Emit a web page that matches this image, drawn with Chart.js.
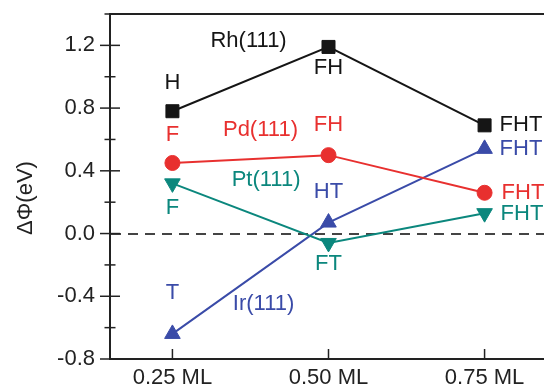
<!DOCTYPE html>
<html>
<head>
<meta charset="utf-8">
<script src="https://cdn.jsdelivr.net/npm/chart.js@4.4.1/dist/chart.umd.min.js"></script>
<style>
  html, body { margin: 0; padding: 0; background: #fff; overflow: hidden; }
  #wrap { width: 552px; height: 387px; }
</style>
</head>
<body>
<div id="wrap"><canvas id="workFunction"></canvas></div>
<script>
// coverage (x) and work-function change (y, eV)
const coverage = [0.25, 0.50, 0.75];
const coverageLabels = ['0.25 ML', '0.50 ML', '0.75 ML'];

const rhValues = [0.78, 1.19, 0.69];
const pdValues = [0.45, 0.50, 0.26];
const ptValues = [0.32, -0.06, 0.13];
const irValues = [-0.64, 0.07, 0.54];

// adsorption sites occupied at each coverage
const rhSites = ['H', 'FH', 'FHT'];
const pdSites = ['F', 'FH', 'FHT'];
const ptSites = ['F', 'FT', 'FHT'];
const irSites = ['T', 'HT', 'FHT'];

const FONT = '22px "Liberation Sans", Arial, sans-serif';
const INK = '#222';

const series = [
  { name: 'Rh(111)', values: rhValues, sites: rhSites, color: '#151515',
    style: 'rect', radius: 9.2, rotation: 0,
    nameAt: [0.372, 1.23], siteOffsets: [[0, -28], [0, 21.5], [15, 0]] },
  { name: 'Pd(111)', values: pdValues, sites: pdSites, color: '#e8302f',
    style: 'circle', radius: 7.5, rotation: 0,
    nameAt: [0.391, 0.66], siteOffsets: [[0, -28], [0, -30], [17, 0]] },
  { name: 'Pt(111)', values: ptValues, sites: ptSites, color: '#0b877d',
    style: 'triangle', radius: 9, rotation: 180,
    nameAt: [0.400, 0.34], siteOffsets: [[0, 25], [0, 21], [16, 1]] },
  { name: 'Ir(111)', values: irValues, sites: irSites, color: '#3a4ba8',
    style: 'triangle', radius: 9, rotation: 0,
    nameAt: [0.396, -0.45], siteOffsets: [[0, -41], [0, -31], [15, 0]] }
];

// series names, site labels, y title, frame and crossing tick marks
const decorations = {
  id: 'decorations',
  afterDatasetsDraw(chart) {
    const { ctx, scales: { x, y } } = chart;
    ctx.save();
    ctx.font = FONT;
    ctx.textBaseline = 'middle';
    series.forEach((s, di) => {
      ctx.fillStyle = s.color;
      ctx.textAlign = 'center';
      ctx.fillText(s.name, x.getPixelForValue(s.nameAt[0]), y.getPixelForValue(s.nameAt[1]));
      chart.getDatasetMeta(di).data.forEach((pt, i) => {
        const [dx, dy] = s.siteOffsets[i];
        ctx.textAlign = dx > 0 ? 'left' : 'center';
        ctx.fillText(s.sites[i], pt.x + dx, pt.y + dy);
      });
    });
    ctx.restore();
  },
  afterDraw(chart) {
    const { ctx, chartArea: area, scales: { x, y } } = chart;
    ctx.save();
    ctx.strokeStyle = INK;
    ctx.lineWidth = 2;

    // top frame
    ctx.beginPath();
    ctx.moveTo(area.left - 1, area.top);
    ctx.lineTo(chart.width, area.top);
    ctx.stroke();

    // y tick marks cross the axis, minor ones are shorter
    ctx.lineWidth = 1.5;
    y.ticks.forEach(t => {
      const py = y.getPixelForValue(t.value);
      const half = t.label === '' ? 5.5 : 10;
      ctx.beginPath();
      ctx.moveTo(area.left - half, py);
      ctx.lineTo(area.left + half, py);
      ctx.stroke();
    });
    // x tick marks point inward
    x.ticks.forEach(t => {
      const px = x.getPixelForValue(t.value);
      ctx.beginPath();
      ctx.moveTo(px, area.bottom);
      ctx.lineTo(px, area.bottom - 10);
      ctx.stroke();
    });

    // y axis title
    ctx.fillStyle = INK;
    ctx.font = FONT;
    ctx.textAlign = 'center';
    ctx.textBaseline = 'middle';
    ctx.translate(26, 198);
    ctx.rotate(-Math.PI / 2);
    ctx.fillText('\u0394\u03A6(eV)', 0, 0);
    ctx.restore();
  }
};

new Chart(document.getElementById('workFunction'), {
  type: 'line',
  data: {
    datasets: series.map(s => ({
      label: s.name,
      data: coverage.map((c, i) => ({ x: c, y: s.values[i] })),
      borderColor: s.color,
      backgroundColor: s.color,
      borderWidth: 2,
      pointStyle: s.style,
      pointRadius: s.radius,
      pointRotation: s.rotation,
      pointBorderWidth: 1,
      pointBackgroundColor: s.color,
      pointBorderColor: s.color,
      tension: 0,
      fill: false
    }))
  },
  options: {
    responsive: true,
    maintainAspectRatio: false,
    animation: false,
    layout: { autoPadding: false, padding: { top: 14, right: 5, left: 0, bottom: 0 } },
    plugins: {
      legend: { display: false },
      tooltip: { enabled: false }
    },
    scales: {
      x: {
        type: 'linear',
        min: 0.15,
        max: 0.85,
        afterBuildTicks: scale => { scale.ticks = coverage.map(v => ({ value: v })); },
        afterFit: scale => {
          scale.height = 28;
          scale.paddingLeft = 0;
          scale.paddingRight = 0;
        },
        ticks: {
          color: INK,
          font: { family: '"Liberation Sans", Arial, sans-serif', size: 22 },
          padding: 6,
          maxRotation: 0,
          autoSkip: false,
          callback: v => coverageLabels[coverage.findIndex(c => Math.abs(c - v) < 1e-6)]
        },
        grid: { display: false, drawTicks: false },
        border: { display: true, color: INK, width: 2 }
      },
      y: {
        min: -0.8,
        max: 1.4,
        afterFit: scale => {
          scale.width = 110;
          scale.paddingTop = 0;
          scale.paddingBottom = 0;
        },
        ticks: {
          stepSize: 0.2,
          color: INK,
          font: { family: '"Liberation Sans", Arial, sans-serif', size: 22 },
          padding: 15,
          autoSkip: false,
          callback: v => {
            const k = Math.round(v * 10);
            return (k % 4 === 0 && k !== 14) ? (k / 10).toFixed(1) : '';
          }
        },
        grid: {
          drawTicks: false,
          drawOnChartArea: true,
          lineWidth: 2,
          // only the zero line is shown, dashed
          color: c => (c.tick && Math.abs(c.tick.value) < 1e-9) ? '#444' : 'rgba(0,0,0,0)'
        },
        border: { display: true, color: INK, width: 2, dash: [10, 7] }
      }
    }
  },
  plugins: [decorations]
});
</script>
</body>
</html>
